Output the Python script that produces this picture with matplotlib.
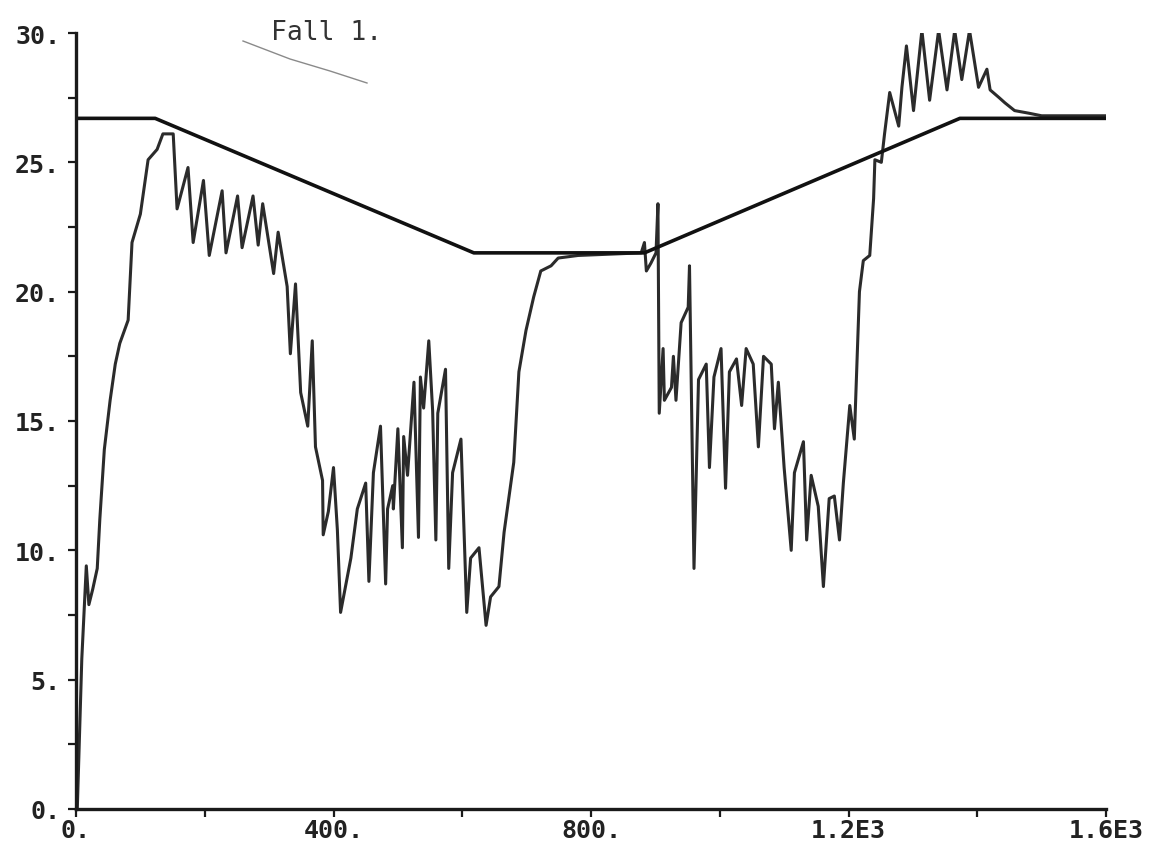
import matplotlib
matplotlib.use("Agg")
import matplotlib.pyplot as plt
from matplotlib.lines import Line2D
from matplotlib.ticker import FixedLocator, MultipleLocator

# set-point profile (piecewise linear)
ref_x = [0, 123, 618, 883, 1373, 1600]
ref_y = [26.7, 26.7, 21.5, 21.5, 26.7, 26.7]

# measured response
meas_x = [2, 9, 16, 20, 26, 33, 37, 44, 53, 61, 68, 81, 87, 100, 112, 126, 135, 151,
          157, 174, 182, 198, 207, 227, 233, 251, 258, 275, 283, 290, 307, 314, 328,
          333, 341, 349, 360, 367, 372, 383, 384, 392, 400, 406, 411, 427, 437, 450,
          455, 462, 473, 481, 484, 492, 493, 500, 507, 509, 515, 525, 532, 535, 540,
          548, 554, 559, 562, 574, 579, 585, 598, 607, 613, 626, 637, 644, 657, 665,
          680, 688, 699, 711, 722, 738, 749, 780, 878, 883, 886, 893, 901, 904, 906,
          912, 914, 925, 928, 932, 940, 951, 953, 960, 967, 979, 984, 991, 1002, 1009,
          1015, 1026, 1034, 1041, 1052, 1060, 1068, 1080, 1085, 1091, 1100, 1111, 1116,
          1130, 1135, 1142, 1153, 1161, 1170, 1178, 1186, 1192, 1202, 1209, 1217, 1223,
          1233, 1239, 1241, 1251, 1256, 1264, 1278, 1283, 1290, 1301, 1314, 1326, 1340,
          1353, 1365, 1376, 1388, 1402, 1415, 1420, 1434, 1443, 1458, 1480, 1500, 1600]
meas_y = [0.0, 5.8, 9.4, 7.9, 8.5, 9.3, 11.2, 13.9, 15.8, 17.2, 18.0, 18.9, 21.9, 23.0,
          25.1, 25.5, 26.1, 26.1, 23.2, 24.8, 21.9, 24.3, 21.4, 23.9, 21.5, 23.7, 21.7,
          23.7, 21.8, 23.4, 20.7, 22.3, 20.2, 17.6, 20.3, 16.1, 14.8, 18.1, 14.0, 12.7,
          10.6, 11.5, 13.2, 10.8, 7.6, 9.7, 11.6, 12.6, 8.8, 13.0, 14.8, 8.7, 11.6, 12.5,
          11.6, 14.7, 10.1, 14.4, 12.9, 16.5, 10.5, 16.7, 15.5, 18.1, 15.4, 10.4, 15.3,
          17.0, 9.3, 13.0, 14.3, 7.6, 9.7, 10.1, 7.1, 8.2, 8.6, 10.7, 13.4, 16.9, 18.5,
          19.8, 20.8, 21.0, 21.3, 21.4, 21.5, 21.9, 20.8, 21.1, 21.5, 23.4, 15.3, 17.8,
          15.8, 16.3, 17.5, 15.8, 18.8, 19.4, 21.0, 9.3, 16.6, 17.2, 13.2, 16.7, 17.8,
          12.4, 16.9, 17.4, 15.6, 17.8, 17.2, 14.0, 17.5, 17.2, 14.7, 16.5, 13.2, 10.0,
          13.0, 14.2, 10.4, 12.9, 11.7, 8.6, 12.0, 12.1, 10.4, 12.6, 15.6, 14.3, 20.0,
          21.2, 21.4, 23.6, 25.1, 25.0, 26.1, 27.7, 26.4, 27.9, 29.5, 27.0, 30.1, 27.4,
          30.1, 27.8, 30.1, 28.2, 30.1, 27.9, 28.6, 27.8, 27.5, 27.3, 27.0, 26.9, 26.8,
          26.8]

x_ticks = [0, 400, 800, 1200, 1600]
x_labels = ["0.", "400.", "800.", "1.2E3", "1.6E3"]
y_ticks = [0, 5, 10, 15, 20, 25, 30]
y_labels = ["0.", "5.", "10.", "15.", "20.", "25.", "30."]

W, H = 1149, 845
fig = plt.figure(figsize=(W / 100, H / 100), dpi=100, facecolor="white")
ax = fig.add_axes([76 / W, 35 / H, 1030 / W, 776 / H])

ax.plot(meas_x, meas_y, color="#2b2b2b", lw=2.2)
ax.plot(ref_x, ref_y, color="#111111", lw=2.6)

ax.set_xlim(0, 1600)
ax.set_ylim(0, 30)

for side in ("top", "right"):
    ax.spines[side].set_visible(False)
for side in ("left", "bottom"):
    ax.spines[side].set_linewidth(2.4)
    ax.spines[side].set_color("#1a1a1a")

ax.xaxis.set_major_locator(FixedLocator(x_ticks))
ax.yaxis.set_major_locator(FixedLocator(y_ticks))
ax.xaxis.set_minor_locator(MultipleLocator(200))
ax.yaxis.set_minor_locator(MultipleLocator(2.5))
ax.set_xticklabels(x_labels)
ax.set_yticklabels(y_labels)

ax.tick_params(which="both", direction="out", length=5.5, width=1.6, color="#1a1a1a")
ax.tick_params(axis="y", pad=6)
ax.tick_params(axis="x", pad=1)
for lab in ax.get_xticklabels() + ax.get_yticklabels():
    lab.set_family("DejaVu Sans Mono")
    lab.set_fontweight("bold")
    lab.set_fontsize(18)
    lab.set_color("#222222")

fig.text(271 / W, 1 - 33 / H, "Fall 1.", family="DejaVu Sans Mono", fontsize=19,
         color="#333333", va="center", ha="left")

# stray pen stroke next to the title
fig.add_artist(Line2D([243 / W, 290 / W, 330 / W, 367 / W],
                      [1 - 42 / H, 1 - 60 / H, 1 - 72 / H, 1 - 84 / H],
                      transform=fig.transFigure, color="#8a8a8a", lw=1.0))

fig.savefig("out.png", dpi=100, facecolor="white")
